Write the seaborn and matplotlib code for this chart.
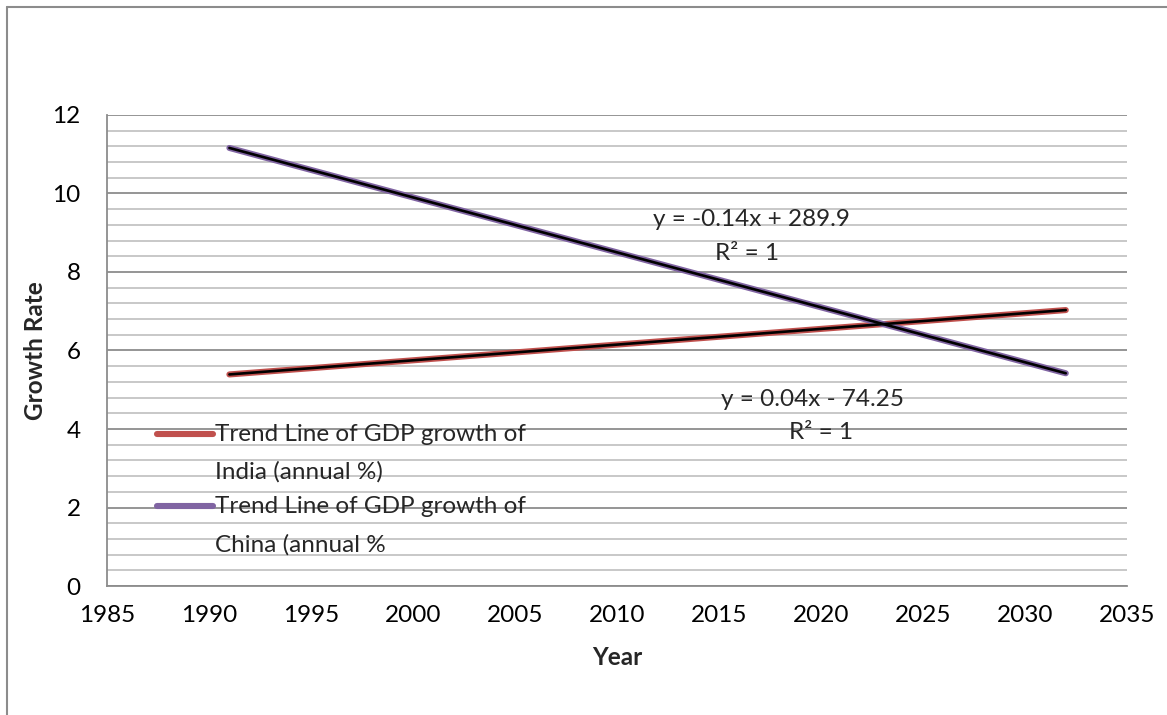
import pandas as pd
import seaborn as sns
import matplotlib.pyplot as plt
from matplotlib.lines import Line2D
from matplotlib.ticker import MultipleLocator

# Values
years = [1991, 2032]
india_growth = [5.39, 7.03]
china_growth = [11.16, 5.42]
india_label = "Trend Line of GDP growth of\nIndia (annual %)"
china_label = "Trend Line of GDP growth of\nChina (annual %"
india_eq = ["y = 0.04x - 74.25", "R\u00b2 = 1"]
china_eq = ["y = -0.14x + 289.9", "R\u00b2 = 1"]

df = pd.DataFrame({
    "Year": years * 2,
    "Growth Rate": india_growth + china_growth,
    "Series": [india_label] * len(years) + [china_label] * len(years),
})

FS = 17.5

sns.set_theme(style="white")
plt.rcParams["font.family"] = ["Lato", "DejaVu Sans"]

fig = plt.figure(figsize=(11.67, 7.15), dpi=100)
ax = fig.add_axes([0.0917, 0.1804, 0.874, 0.6588])

# coloured series lines with the black trend line on top
sns.lineplot(data=df, x="Year", y="Growth Rate", hue="Series",
             palette=["#C0504D", "#8064A2"], linewidth=4.4,
             solid_capstyle="round", ax=ax, zorder=3)
sns.lineplot(data=df, x="Year", y="Growth Rate", units="Series",
             estimator=None, color="black", linewidth=1.9,
             legend=False, ax=ax, zorder=4)

ax.set_xlim(1985, 2035)
ax.set_ylim(0, 12)
ax.xaxis.set_major_locator(MultipleLocator(5))
ax.yaxis.set_major_locator(MultipleLocator(2))
ax.yaxis.set_minor_locator(MultipleLocator(0.4))
ax.grid(axis="y", which="major", color="#8c8c8c", linewidth=1.3, zorder=0)
ax.grid(axis="y", which="minor", color="#c4c4c4", linewidth=1.3, zorder=0)
ax.set_axisbelow(True)

for side in ["top", "right"]:
    ax.spines[side].set_visible(False)
for side in ["left", "bottom"]:
    ax.spines[side].set_color("#8c8c8c")
    ax.spines[side].set_linewidth(1.3)

ax.tick_params(axis="both", which="major", direction="out", length=6,
               width=1.3, color="#8c8c8c", labelsize=FS, labelcolor="black")
ax.tick_params(axis="y", which="major", pad=13)
ax.tick_params(axis="x", which="major", pad=8)
ax.tick_params(axis="y", which="minor", length=0)

ax.set_xlabel("Year", fontsize=FS, fontweight="bold", labelpad=14)
ax.set_ylabel("Growth Rate", fontsize=FS, fontweight="bold", labelpad=4)

# trend line equations
ax.text(2016.6, 9.33, china_eq[0], ha="center", va="center", fontsize=FS)
ax.text(2016.4, 8.48, china_eq[1], ha="center", va="center", fontsize=FS)
ax.text(2019.6, 4.74, india_eq[0], ha="center", va="center", fontsize=FS)
ax.text(2020.0, 3.92, india_eq[1], ha="center", va="center", fontsize=FS)

# legend, Excel-like: handle level with the first text line
leg = ax.legend(loc="upper left", bbox_to_anchor=(0.049, 0.345), frameon=False,
                fontsize=FS, handlelength=2.3, handletextpad=0.1,
                labelspacing=0.55, borderpad=0, borderaxespad=0)
for t in leg.get_texts():
    t.set_linespacing(1.95)
for ln in leg.get_lines():
    ln.set_linewidth(4.4)
    ln.set_ydata([y + 0.8 * FS for y in ln.get_ydata()])

# chart area border (top and left edges visible in the crop)
fig.add_artist(Line2D([0.006, 1.0], [0.9902, 0.9902], color="#8c8c8c",
                      linewidth=1.5, transform=fig.transFigure))
fig.add_artist(Line2D([0.006, 0.006], [0.0, 0.9902], color="#8c8c8c",
                      linewidth=1.5, transform=fig.transFigure))

fig.savefig("out.png", dpi=100)
